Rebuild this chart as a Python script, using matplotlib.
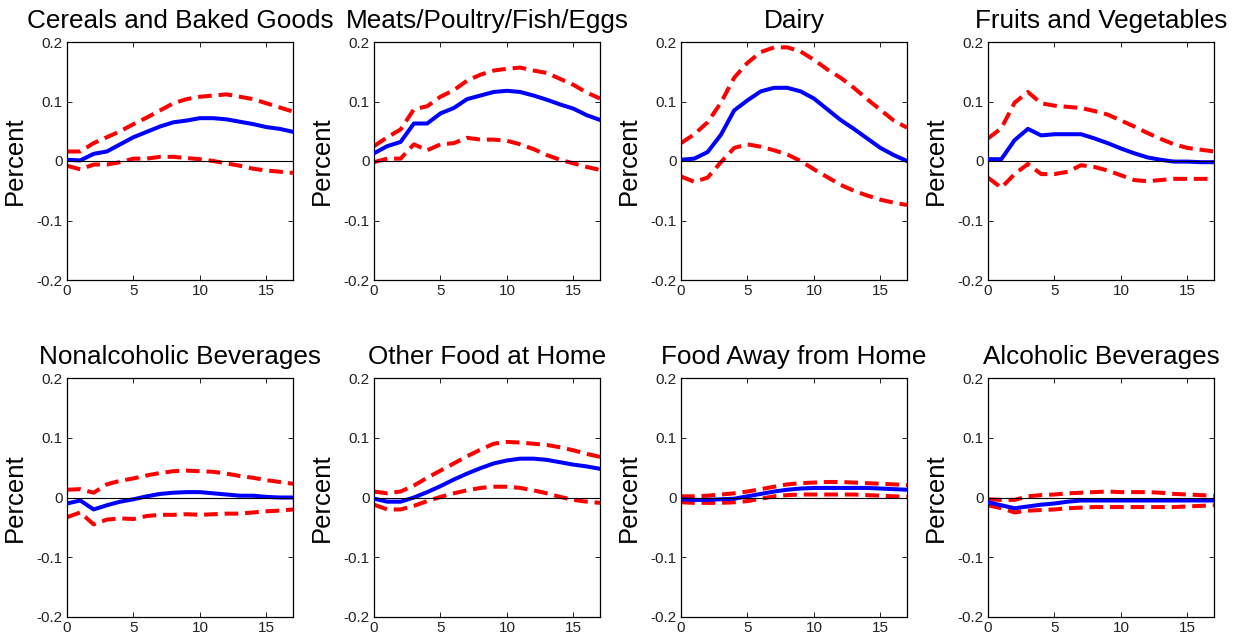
import matplotlib
matplotlib.use("Agg")
import matplotlib.pyplot as plt
import numpy as np

plt.rcParams['font.family'] = ['Liberation Sans', 'DejaVu Sans']

horizon = list(range(18))

titles = ["Cereals and Baked Goods", "Meats/Poultry/Fish/Eggs", "Dairy", "Fruits and Vegetables",
          "Nonalcoholic Beverages", "Other Food at Home", "Food Away from Home", "Alcoholic Beverages"]

cereals_mid = [0.002, 0.001, 0.012, 0.016, 0.028, 0.040, 0.049, 0.058, 0.065, 0.068, 0.072, 0.072, 0.070, 0.066, 0.062, 0.057, 0.054, 0.049]
cereals_hi = [0.016, 0.016, 0.030, 0.040, 0.050, 0.062, 0.073, 0.085, 0.097, 0.104, 0.108, 0.110, 0.112, 0.108, 0.104, 0.097, 0.090, 0.083]
cereals_lo = [-0.008, -0.014, -0.006, -0.006, -0.002, 0.004, 0.004, 0.007, 0.007, 0.005, 0.003, 0.000, -0.004, -0.008, -0.013, -0.016, -0.018, -0.020]

meats_mid = [0.013, 0.025, 0.032, 0.063, 0.063, 0.080, 0.089, 0.104, 0.110, 0.116, 0.118, 0.116, 0.110, 0.103, 0.095, 0.088, 0.077, 0.069]
meats_hi = [0.025, 0.040, 0.053, 0.087, 0.092, 0.108, 0.119, 0.135, 0.145, 0.152, 0.155, 0.157, 0.152, 0.148, 0.138, 0.128, 0.115, 0.105]
meats_lo = [-0.002, 0.004, 0.004, 0.028, 0.018, 0.028, 0.030, 0.039, 0.036, 0.036, 0.034, 0.028, 0.020, 0.010, 0.002, -0.004, -0.010, -0.015]

dairy_mid = [0.002, 0.004, 0.015, 0.044, 0.085, 0.102, 0.117, 0.123, 0.123, 0.117, 0.105, 0.087, 0.069, 0.054, 0.038, 0.022, 0.010, 0.000]
dairy_hi = [0.030, 0.045, 0.065, 0.098, 0.140, 0.165, 0.183, 0.191, 0.191, 0.184, 0.170, 0.154, 0.140, 0.123, 0.104, 0.086, 0.068, 0.056]
dairy_lo = [-0.026, -0.035, -0.028, -0.002, 0.022, 0.028, 0.024, 0.018, 0.011, 0.000, -0.014, -0.027, -0.040, -0.050, -0.058, -0.065, -0.070, -0.074]

fruits_mid = [0.003, 0.003, 0.035, 0.054, 0.043, 0.045, 0.045, 0.045, 0.038, 0.030, 0.021, 0.013, 0.006, 0.002, -0.001, -0.001, -0.002, -0.002]
fruits_hi = [0.038, 0.055, 0.098, 0.116, 0.097, 0.093, 0.091, 0.089, 0.084, 0.078, 0.068, 0.058, 0.047, 0.037, 0.028, 0.022, 0.019, 0.016]
fruits_lo = [-0.028, -0.045, -0.022, -0.005, -0.022, -0.022, -0.018, -0.007, -0.010, -0.016, -0.024, -0.032, -0.034, -0.032, -0.030, -0.030, -0.030, -0.030]

nonalc_mid = [-0.010, -0.005, -0.020, -0.013, -0.007, -0.003, 0.002, 0.006, 0.008, 0.009, 0.009, 0.007, 0.005, 0.003, 0.003, 0.001, 0.000, 0.000]
nonalc_hi = [0.013, 0.014, 0.008, 0.022, 0.028, 0.032, 0.037, 0.041, 0.044, 0.045, 0.044, 0.043, 0.040, 0.036, 0.033, 0.029, 0.026, 0.023]
nonalc_lo = [-0.033, -0.025, -0.045, -0.037, -0.035, -0.036, -0.031, -0.029, -0.029, -0.028, -0.029, -0.028, -0.027, -0.027, -0.025, -0.023, -0.022, -0.020]

other_mid = [-0.002, -0.007, -0.007, 0.000, 0.009, 0.019, 0.030, 0.040, 0.049, 0.057, 0.062, 0.065, 0.065, 0.063, 0.059, 0.055, 0.052, 0.048]
other_hi = [0.010, 0.007, 0.010, 0.020, 0.033, 0.045, 0.057, 0.069, 0.080, 0.090, 0.093, 0.092, 0.090, 0.088, 0.084, 0.079, 0.073, 0.068]
other_lo = [-0.012, -0.020, -0.020, -0.014, -0.006, 0.001, 0.007, 0.012, 0.016, 0.018, 0.018, 0.016, 0.012, 0.007, 0.001, -0.004, -0.007, -0.009]

away_mid = [-0.003, -0.004, -0.004, -0.003, -0.002, 0.002, 0.006, 0.010, 0.013, 0.015, 0.016, 0.016, 0.016, 0.016, 0.016, 0.015, 0.014, 0.013]
away_hi = [0.002, 0.002, 0.003, 0.005, 0.007, 0.010, 0.014, 0.018, 0.022, 0.024, 0.025, 0.026, 0.026, 0.025, 0.024, 0.023, 0.022, 0.021]
away_lo = [-0.008, -0.009, -0.009, -0.009, -0.008, -0.006, -0.002, 0.002, 0.004, 0.005, 0.005, 0.005, 0.005, 0.005, 0.004, 0.003, 0.002, 0.001]

alc_mid = [-0.008, -0.013, -0.018, -0.015, -0.012, -0.010, -0.007, -0.005, -0.005, -0.005, -0.005, -0.005, -0.005, -0.005, -0.005, -0.005, -0.005, -0.005]
alc_hi = [-0.003, -0.004, -0.004, 0.002, 0.004, 0.005, 0.007, 0.008, 0.009, 0.010, 0.009, 0.009, 0.009, 0.008, 0.006, 0.005, 0.004, 0.003]
alc_lo = [-0.013, -0.018, -0.025, -0.022, -0.021, -0.020, -0.018, -0.017, -0.016, -0.016, -0.016, -0.016, -0.016, -0.016, -0.016, -0.015, -0.014, -0.013]

mids = [cereals_mid, meats_mid, dairy_mid, fruits_mid, nonalc_mid, other_mid, away_mid, alc_mid]
his = [cereals_hi, meats_hi, dairy_hi, fruits_hi, nonalc_hi, other_hi, away_hi, alc_hi]
los = [cereals_lo, meats_lo, dairy_lo, fruits_lo, nonalc_lo, other_lo, away_lo, alc_lo]

yticks = [-0.2, -0.1, 0, 0.1, 0.2]
ytick_labels = ["-0.2", "-0.1", "0", "0.1", "0.2"]
xticks = [0, 5, 10, 15]

W, H = 1239, 637
fig = plt.figure(figsize=(W / 100, H / 100), dpi=100)

lefts = [67, 374, 681, 988]
axw = 226
rows = [(42, 280), (378, 617)]

for i in range(8):
    r, c = divmod(i, 4)
    top, bot = rows[r]
    ax = fig.add_axes([lefts[c] / W, 1 - bot / H, axw / W, (bot - top) / H])
    ax.plot(horizon, his[i], color=(1, 0, 0), lw=2.9, dashes=(3.4, 1.7), zorder=2)
    ax.plot(horizon, los[i], color=(1, 0, 0), lw=2.9, dashes=(3.4, 1.7), zorder=2)
    ax.plot(horizon, mids[i], color=(0, 0, 1), lw=2.9, zorder=3)
    ax.axhline(0, color='black', lw=0.8, zorder=4)
    ax.set_xlim(0, 17)
    ax.set_ylim(-0.2, 0.2)
    ax.set_xticks(xticks)
    ax.set_xticklabels([str(t) for t in xticks])
    ax.set_yticks(yticks)
    ax.set_yticklabels(ytick_labels)
    ax.tick_params(direction='in', top=True, right=True, length=3.5, width=0.7,
                   labelsize=11, pad=3, colors='#222222')
    for s in ax.spines.values():
        s.set_linewidth(0.9)
    ax.set_title(titles[i], fontsize=18.8, pad=10)
    ax.set_ylabel("Percent", fontsize=18.5, labelpad=7)

fig.savefig("out.png", dpi=100)
